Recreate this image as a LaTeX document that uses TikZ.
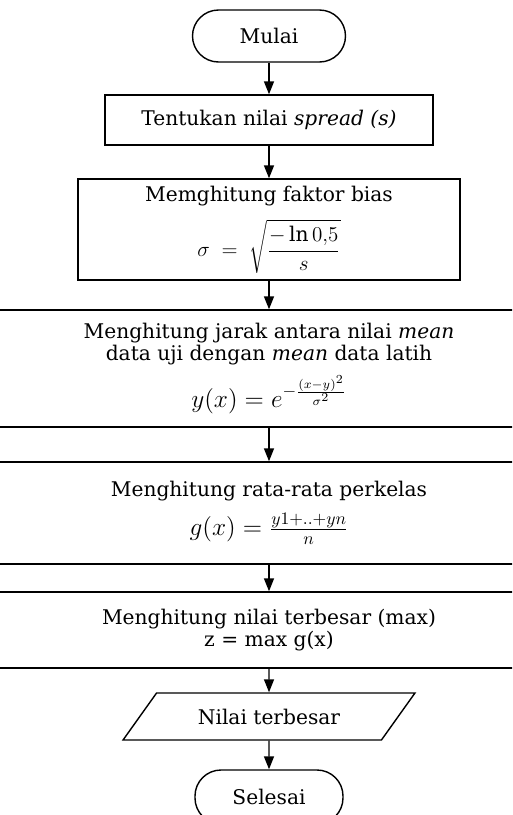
\documentclass[tikz,border=0pt]{standalone}
\usepackage{fontspec}
\setmainfont{DejaVu Serif}
\usetikzlibrary{arrows.meta,shapes.geometric}

\begin{document}
\begin{tikzpicture}[
    >={Triangle[width=0.2cm,length=0.26cm]},
    every node/.style={font=\fontsize{11.5}{12.5}\selectfont},
    terminal/.style={draw, thick, rounded corners=0.52cm, minimum width=3.06cm, minimum height=1.04cm},
    prosesbox/.style={draw, thick, rectangle, align=center, inner sep=2pt},
    outputbox/.style={draw, thick, trapezium, trapezium left angle=50, trapezium right angle=130,
        trapezium stretches=true, minimum width=5.84cm, minimum height=0.94cm},
    flow/.style={->, thick}
]
    \useasboundingbox (0,0) rectangle (10.24,-16.3);
    \clip (0,0) rectangle (10.24,-16.3);
    \fill[white] (0,0) rectangle (10.24,-16.3);

    \node[terminal] (mulai) at (5.38,-0.72) {Mulai};
    \node[prosesbox, minimum width=6.56cm, minimum height=1.0cm] (spread) at (5.38,-2.4)
        {Tentukan nilai \textit{spread (s)}};
    \node[prosesbox, minimum width=7.64cm, minimum height=2.02cm] (bias) at (5.38,-4.59)
        {Memghitung faktor bias\\[7pt]
         $\displaystyle \sigma \;=\; \sqrt{\frac{-\ln 0{,}5}{s}}$};
    \node[prosesbox, minimum width=11cm, minimum height=2.34cm] (jarak) at (5.38,-7.37)
        {Menghitung jarak antara nilai \textit{mean}\\
         data uji dengan \textit{mean} data latih\\[5pt]
         {\Large $y(x) = e^{-\frac{(x-y)^2}{\sigma^2}}$}};
    \node[prosesbox, minimum width=11cm, minimum height=2.04cm] (rata) at (5.38,-10.26)
        {Menghitung rata-rata perkelas\\[6pt]
         {\Large $g(x) = \frac{y1+..+yn}{n}$}};
    \node[prosesbox, minimum width=11cm, minimum height=1.52cm] (maks) at (5.38,-12.6)
        {Menghitung nilai terbesar (max)\\
         z = max g(x)};
    \node[outputbox] (hasil) at (5.38,-14.33) {Nilai terbesar};
    \node[terminal, minimum width=2.96cm, minimum height=1.08cm] (selesai) at (5.38,-15.94) {Selesai};

    \draw[flow] (mulai) -- (spread);
    \draw[flow] (spread) -- (bias);
    \draw[flow] (bias) -- (jarak);
    \draw[flow] (jarak) -- (rata);
    \draw[flow] (rata) -- (maks);
    \draw[flow] (maks) -- (hasil);
    \draw[flow] (hasil) -- (selesai);
\end{tikzpicture}
\end{document}
